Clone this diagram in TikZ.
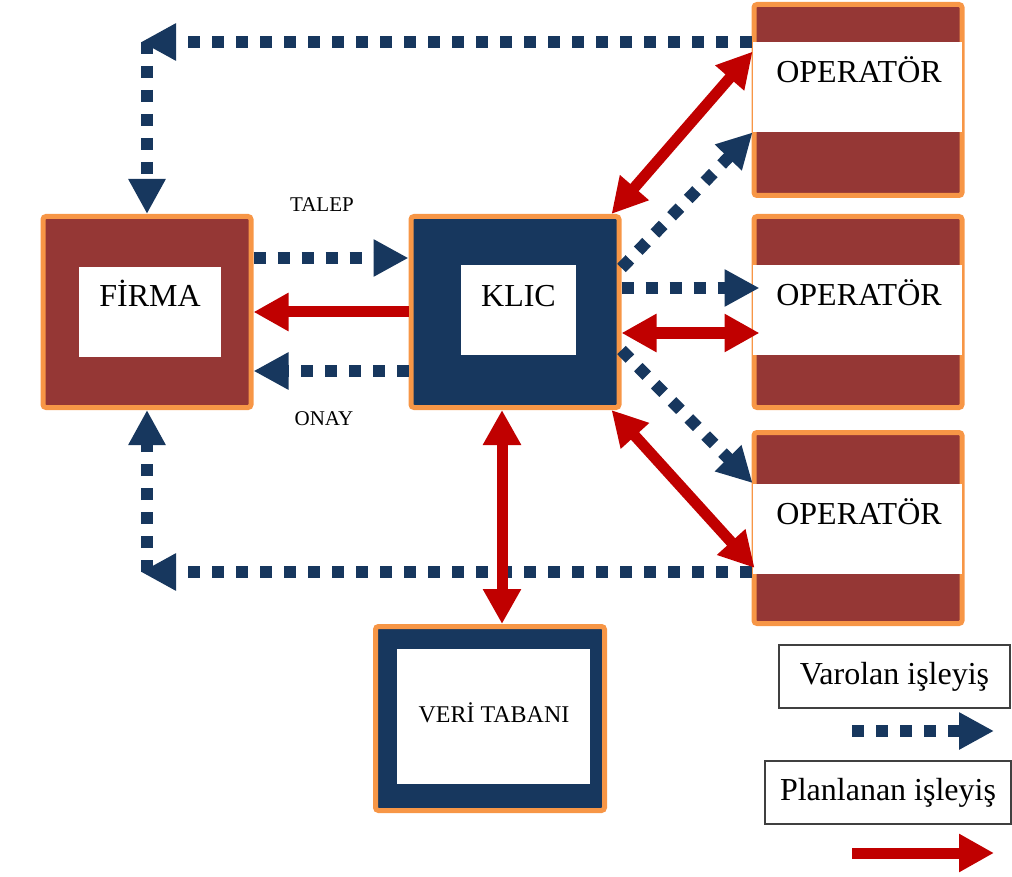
\documentclass[tikz,border=0pt]{standalone}
\usepackage{fontspec}
\setmainfont{Liberation Serif}
\usetikzlibrary{positioning,calc,arrows.meta}
\definecolor{boxred}{HTML}{953735}
\definecolor{boxnavy}{HTML}{17375E}
\definecolor{boxedge}{HTML}{F79646}
\definecolor{planred}{HTML}{C00000}

\tikzset{
  unitbox/.style={draw=boxedge, line width=2.5pt, rounded corners=1.5pt, minimum width=104pt, minimum height=95.5pt},
  redunit/.style={unitbox, fill=boxred},
  navyunit/.style={unitbox, fill=boxnavy},
  winbox/.style={fill=white, inner sep=0pt},
  mainlbl/.style={font=\fontsize{16}{19}\selectfont, anchor=base, inner sep=0pt},
  smalllbl/.style={font=\fontsize{10.5}{12}\selectfont, anchor=base, inner sep=0pt},
  dotarrow/.style={draw=boxnavy, line width=6pt, dash pattern=on 6pt off 6pt, -{Triangle[length=17.5pt,width=17.5pt]}},
  redarrow/.style={draw=planred, line width=5.5pt, -{Triangle[length=17.5pt,width=18pt]}},
  redboth/.style={redarrow, {Triangle[length=17.5pt,width=18pt]}-{Triangle[length=17.5pt,width=18pt]}},
  legendbox/.style={draw=black!75, line width=1pt, fill=white, minimum height=31.5pt, font=\fontsize{16}{19}\selectfont}
}

\begin{document}
\begin{tikzpicture}[x=0.5pt, y=-0.5pt]
  \useasboundingbox (0,0) rectangle (1012,877);

  % Firma and KLIC
  \node[redunit] (firma) at (147,312) {};
  \node[winbox, minimum width=71pt, minimum height=45pt] (firmain) at (150,312) {};
  \node[mainlbl] at ($(firmain.north)+(0,40)$) {FİRMA};

  \node[navyunit] (klic) at (515,312) {};
  \node[winbox, minimum width=57.5pt, minimum height=45pt] (klicin) at (518.5,310) {};
  \node[mainlbl] at ($(klicin.north)+(0,42)$) {KLIC};

  % Operators
  \foreach \n/\by/\sy in {op1/100/87, op2/312/310, op3/528/528.5} {
    \node[redunit] (\n) at (858,\by) {};
    \node[winbox, minimum width=104.5pt, minimum height=45pt] (s\n) at (857.5,\sy) {};
    \node[mainlbl] at ($(s\n.north)+(1.5,41)$) {OPERATÖR};
  }

  % Database
  \node[navyunit, minimum width=114.5pt, minimum height=92pt] (veri) at (490,718.5) {};
  \node[winbox, minimum width=96.5pt, minimum height=67.5pt] (veriin) at (493.5,716.5) {};
  \node[font=\fontsize{12}{14}\selectfont, anchor=base, inner sep=0pt] at ($(veriin.north)+(0.5,74)$) {VERİ TABANI};

  % Existing flow (dotted)
  \coordinate (ctop) at (147,42);
  \coordinate (cbot) at (147,572);
  \draw[dotarrow] (op1.west |- ctop) -- ($(ctop)+(-6,0)$);
  \draw[dotarrow] (ctop) -- (firma.north);
  \draw[dotarrow] (op3.west |- cbot) -- ($(cbot)+(-6,0)$);
  \draw[dotarrow] (cbot) -- (firma.south);
  \draw[dotarrow] ($(firma.east)+(0,-54)$) -- ($(klic.west)+(0,-54)$);
  \draw[dotarrow] ($(klic.west)+(0,59)$) -- ($(firma.east)+(0,59)$);
  \draw[dotarrow] ($(klic.east)+(0,-44)$) -- (sop1.south west);
  \draw[dotarrow] ($(klic.east)+(0,-24)$) -- ($(op2.west)+(8,-24)$);
  \draw[dotarrow] ($(klic.east)+(0,38)$) -- (sop3.north west);
  \node[smalllbl] (talep) at (322,212) {TALEP};
  \node[smalllbl] (onay) at (324,425) {ONAY};

  % Planned flow (red)
  \draw[redarrow] (klic.west) -- (firma.east);
  \draw[redboth] ($(klic.north east)+(-10,0)$) -- ($(sop1.north west)+(0,10)$);
  \draw[redboth] ($(klic.east)+(0,21)$) -- ($(op2.west)+(8,21)$);
  \draw[redboth] ($(klic.south east)+(-10,0)$) -- ($(sop3.south west)+(2,-6)$);
  \draw[redboth] ($(klic.south)+(-13,0)$) -- ($(veri.north)+(12,0)$);

  % Legend
  \node[legendbox, minimum width=115.5pt] (varolan) at (894.5,676.5) {Varolan işleyiş};
  \node[legendbox, minimum width=123pt] (planlanan) at (888,792.5) {Planlanan işleyiş};
  \coordinate (dotleg) at (852,731);
  \coordinate (redleg) at (852,853);
  \draw[dotarrow] (dotleg) -- ++(142,0);
  \draw[redarrow] (redleg) -- ++(142,0);
\end{tikzpicture}
\end{document}
